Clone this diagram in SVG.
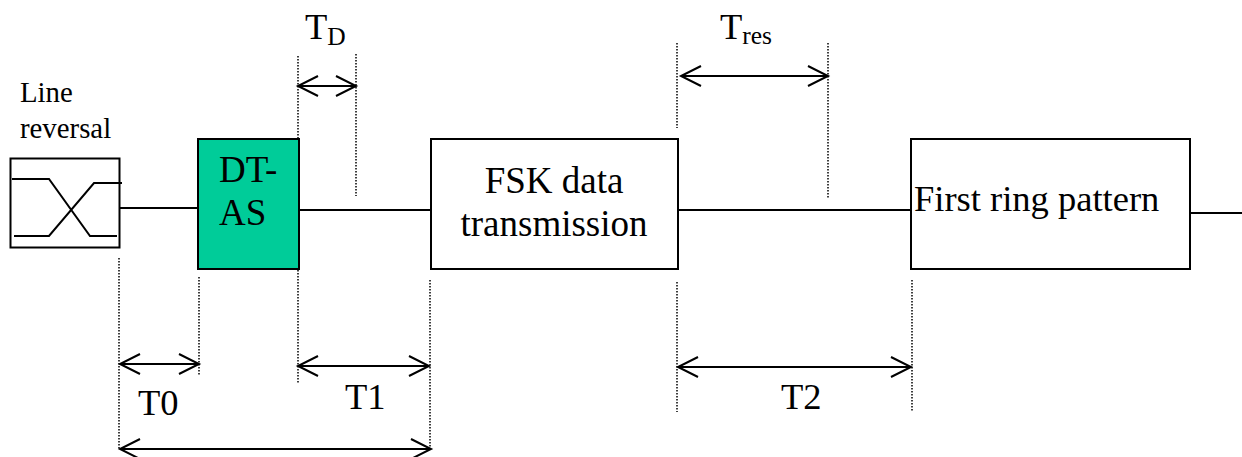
<svg xmlns="http://www.w3.org/2000/svg" width="1242" height="457" viewBox="0 0 1242 457">
<style>
text{font-family:"Liberation Serif","Times New Roman",serif;fill:#000}
.b{stroke:#000;stroke-width:2;fill:#fff}
.l{stroke:#000;stroke-width:2;fill:none}
.d{stroke:#000;stroke-width:1.5;fill:none;stroke-dasharray:1.5 1.5}
.a{stroke:#000;stroke-width:2;fill:none;marker-start:url(#h);marker-end:url(#h)}
.t{font-size:36.500px}
.u{font-size:37px}
</style>
<defs>
<marker id="h" viewBox="-22 -11 44 22" markerUnits="userSpaceOnUse" markerWidth="44" markerHeight="22" orient="auto-start-reverse" refX="0" refY="0"><path d="M-20,-10L0,0L-20,10" fill="none" stroke="#000" stroke-width="2"/></marker>
</defs>
<rect width="1242" height="457" fill="#fff"/>
<g id="connectors">
<path class="l" d="M120,208H198M300,210H431M678,210H911M1190,213H1242"/>
<path class="d" d="M119,258V450M199,277V375M298,56V138M298,270V384M356,54V196M430,280V450M677,43V128M677,282V412M828,43V198M912,280V412"/>
<path class="a" d="M298,86H356"/>
<path class="a" d="M681,76H828"/>
<path class="a" d="M120,364H199"/>
<path class="a" d="M298,366H429"/>
<path class="a" d="M678,367H911"/>
<path class="a" d="M120,449H431"/>
</g>
<g id="line-reversal">
<rect class="b" x="10.500" y="158.500" width="109" height="89"/>
<path class="l" d="M12,179H49L90,236H117M14,236H49L94,183H122"/>
<text x="20" y="102" font-size="28.800">Line</text>
<text x="20" y="138" font-size="28.800">reversal</text>
</g>
<g id="dt-as">
<rect x="198" y="139" width="101" height="130" fill="#00cc99" stroke="#000" stroke-width="2"/>
<text x="219" y="182" class="u">DT-</text>
<text x="219" y="225" class="u">AS</text>
</g>
<g id="fsk">
<rect class="b" x="431" y="139" width="247" height="130"/>
<text x="554" y="193" class="u" text-anchor="middle">FSK data</text>
<text x="554" y="236" class="u" text-anchor="middle">transmission</text>
</g>
<g id="first-ring">
<rect class="b" x="911" y="139" width="279" height="130"/>
<text x="914" y="211" class="t">First ring pattern</text>
</g>
<g id="labels">
<text x="305" y="39" class="t">T<tspan font-size="25.500" dy="6">D</tspan></text>
<text x="720" y="39" class="t">T<tspan font-size="25.500" dy="5">res</tspan></text>
<text x="138" y="415" class="t">T0</text>
<text x="345" y="409" class="t">T1</text>
<text x="781" y="409" class="t">T2</text>
</g>
</svg>
